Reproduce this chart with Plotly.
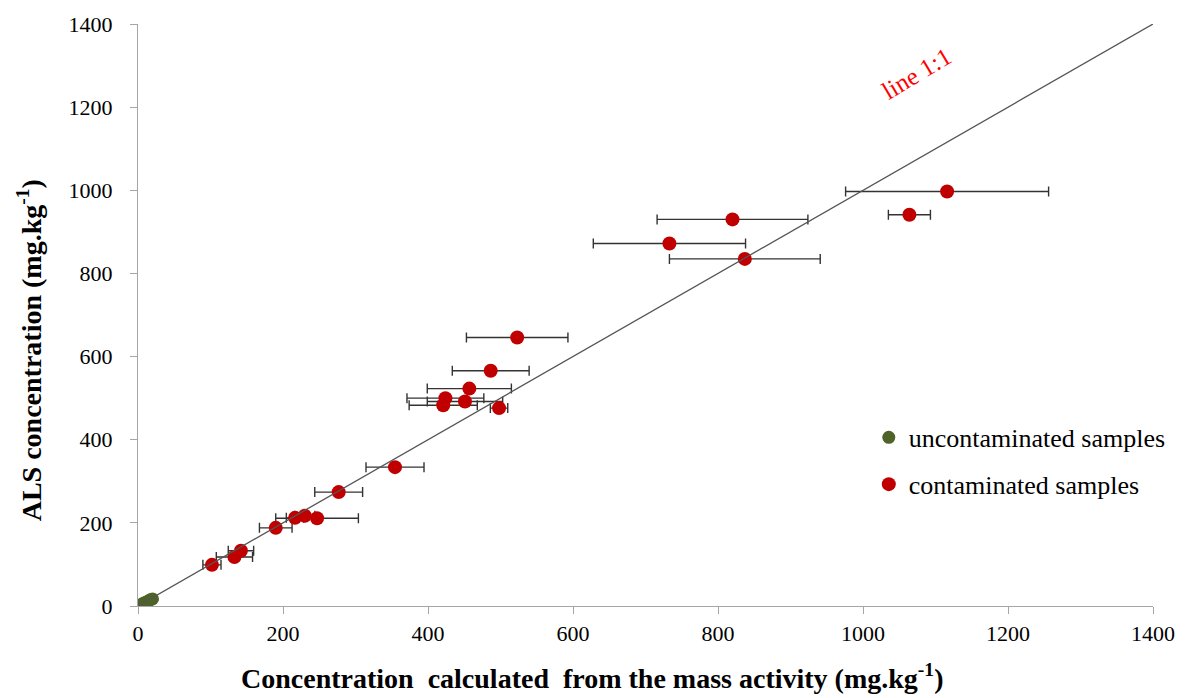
import plotly.graph_objects as go

# Contaminated samples
cont_x = [102, 133, 142, 190, 216.6, 230, 247, 276.8, 354.5, 421, 424, 451, 457, 486.5, 498, 523, 733, 820, 837, 1064, 1116]
cont_y = [99, 118, 133, 188, 212, 217, 211, 274, 334, 483, 500, 492, 523, 566, 476, 646, 872, 930, 835, 941, 997]
cont_xerr = [12.5, 25, 17.5, 22.5, 12, 14, 57, 33, 40, 47, 53, 52, 58, 53, 12, 70, 105, 104, 104, 29, 140]

# Uncontaminated samples
unc_x = [2, 5, 8, 11, 14, 17, 20]
unc_y = [1, 4, 7, 9, 12, 15, 17]

line_x = [0, 1400]
line_y = [0, 1400]

tick_vals = [0, 200, 400, 600, 800, 1000, 1200, 1400]

FONT = "Liberation Serif, Times New Roman, serif"

fig = go.Figure()
fig.add_trace(go.Scatter(
    x=unc_x, y=unc_y, mode="markers", name="uncontaminated samples",
    legendgroup="a",
    marker=dict(color="#4f6228", size=13),
))
fig.add_trace(go.Scatter(
    x=cont_x, y=cont_y, mode="markers", name="contaminated samples",
    legendgroup="b",
    marker=dict(color="#c00000", size=14),
    error_x=dict(type="data", array=cont_xerr, visible=True, color="#333333", thickness=1.4, width=5),
))
fig.add_trace(go.Scatter(
    x=line_x, y=line_y, mode="lines", showlegend=False,
    line=dict(color="#555555", width=1.3),
))

fig.add_annotation(
    x=1074, y=1280, text="line 1:1", showarrow=False, textangle=-31,
    font=dict(family=FONT, size=25, color="#ff0000"),
)

# Axis titles (placed as annotations to match the reference's offsets)
fig.add_annotation(
    xref="paper", yref="paper", x=0.447, y=-0.121, xanchor="center", yanchor="middle",
    text="<b>Concentration  calculated  from the mass activity (mg.kg<sup>-1</sup>)</b>",
    showarrow=False, font=dict(family=FONT, size=28, color="#000000"),
)
fig.add_annotation(
    xref="paper", yref="paper", x=-0.106, y=0.44, xanchor="center", yanchor="middle",
    text="<b>ALS concentration (mg.kg<sup>-1</sup>)</b>", textangle=-90,
    showarrow=False, font=dict(family=FONT, size=28, color="#000000"),
)

axis_common = dict(
    range=[0, 1400], tickvals=tick_vals, showgrid=False, zeroline=False,
    showline=True, linecolor="#a6a6a6", linewidth=1.3,
    ticks="outside", ticklen=7, tickcolor="#a6a6a6", tickwidth=1.3,
    tickfont=dict(family=FONT, size=22, color="#000000"),
)

fig.update_layout(
    width=1196, height=698,
    margin=dict(l=138, r=43, t=24, b=92),
    paper_bgcolor="white", plot_bgcolor="white",
    showlegend=True,
    legend=dict(
        x=0.72, y=0.33, xanchor="left", yanchor="top",
        font=dict(family=FONT, size=26, color="#000000"),
        tracegroupgap=10, itemwidth=30, bgcolor="rgba(0,0,0,0)",
    ),
    xaxis=dict(**axis_common, ticklabelstandoff=0),
    yaxis=dict(**axis_common, ticklabelstandoff=13),
)

fig.write_html("out.html")
